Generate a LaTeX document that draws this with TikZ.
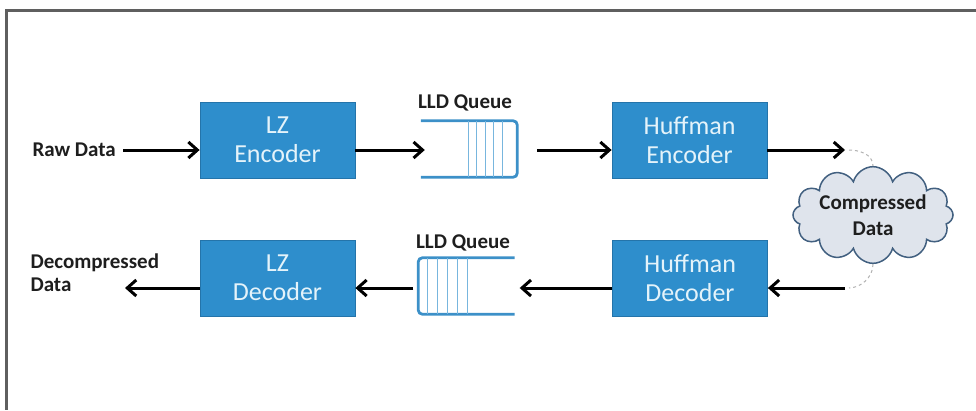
\documentclass[tikz,border=0pt]{standalone}
\usepackage{fontspec}
\setmainfont{Carlito}
\usetikzlibrary{arrows.meta,shapes.symbols,calc}
\definecolor{boxblue}{RGB}{46,142,204}
\definecolor{boxedge}{RGB}{36,116,170}
\definecolor{boxtext}{RGB}{228,243,250}
\definecolor{queueblue}{RGB}{60,144,200}
\definecolor{queuelight}{RGB}{120,182,222}
\definecolor{cloudfill}{RGB}{223,228,236}
\definecolor{cloudedge}{RGB}{66,96,128}
\definecolor{framegray}{RGB}{95,95,95}
\definecolor{labelblack}{RGB}{30,30,30}

\begin{document}
\begin{tikzpicture}[x=1pt,y=-1pt,
  block/.style={draw=boxedge,fill=boxblue,line width=0.8pt,minimum width=155pt,minimum height=76pt,
    inner sep=0pt,align=center,text=boxtext,font=\fontsize{26}{29}\selectfont},
  lbl/.style={text=labelblack,font=\bfseries\fontsize{21}{23}\selectfont},
  flow/.style={line width=3pt,-{Straight Barb[length=9pt,width=16pt]}},
  queue/.style={minimum width=96pt,minimum height=56pt,inner sep=0pt},
  qline/.style={draw=queueblue,line width=2.8pt,rounded corners=4pt},
  qbar/.style={draw=queuelight,line width=1.2pt},
  link/.style={gray!60,dashed,line width=1pt}]
\useasboundingbox (0,0) rectangle (976,410);
\draw[framegray,line width=3pt] (976,10) -- (6,10) -- (6,410);

\coordinate (toprow) at (0,150);
\coordinate (botrow) at (0,288);

\node[block] (lzenc) at (277.5,140) {LZ\\Encoder};
\node[block] (hufenc) at (689.5,140) {Huffman\\Encoder};
\node[block] (lzdec) at (277.5,278) {LZ\\Decoder};
\node[block] (hufdec) at (690,278) {Huffman\\Decoder};

\node[queue] (qenc) at (469,149) {};
\node[queue] (qdec) at (466.5,286) {};
\node[lbl] (qenclbl) at (465,103) {LLD Queue};
\node[lbl] (qdeclbl) at (463,243) {LLD Queue};

\node[cloud,cloud puffs=12,aspect=2.2,draw=cloudedge,fill=cloudfill,line width=1.5pt,
  minimum width=160pt,minimum height=78pt,inner sep=0pt,align=center,
  text=labelblack,font=\bfseries\fontsize{21}{26}\selectfont] (cdata) at (873,215) {Compressed\\Data};

\node[lbl,anchor=west] (raw) at (29,150) {Raw Data};
\node[lbl,anchor=north west,align=left] (decomp) at (27,250) {Decompressed\\Data};
\coordinate (encout) at (845,150);
\coordinate (decin) at (845,288);
\coordinate (decout) at (125,288);

\draw[qline] (qenc.north west) -- (qenc.north east) -- (qenc.south east) -- (qenc.south west);
\foreach \i in {0,...,4}
  \draw[qbar] ($(qenc.north east)+(-15-8.5*\i,0)$) -- ($(qenc.south east)+(-15-8.5*\i,0)$);
\draw[qline] (qdec.north east) -- (qdec.north west) -- (qdec.south west) -- (qdec.south east);
\foreach \i in {0,...,4}
  \draw[qbar] ($(qdec.north west)+(9+10*\i,0)$) -- ($(qdec.south west)+(9+10*\i,0)$);

\draw[flow,shorten <=4pt] (raw.east |- toprow) -- (lzenc.west |- toprow);
\draw[flow] (lzenc.east |- toprow) -- ($(qenc.west |- toprow)+(4,0)$);
\draw[flow,shorten <=20pt] (qenc.east |- toprow) -- (hufenc.west |- toprow);
\draw[flow] (hufenc.east |- toprow) -- (encout);
\draw[flow] (decin) -- (hufdec.east |- botrow);
\draw[flow,shorten >=5pt] (hufdec.west |- botrow) -- (qdec.east |- botrow);
\draw[flow,shorten <=5pt] (qdec.west |- botrow) -- (lzdec.east |- botrow);
\draw[flow] (lzdec.west |- botrow) -- (decout);

\draw[link,shorten <=4pt] (encout) to[out=0,in=90] (cdata.north);
\draw[link,shorten >=4pt] (cdata.south) to[out=-90,in=0] (decin);
\end{tikzpicture}
\end{document}
